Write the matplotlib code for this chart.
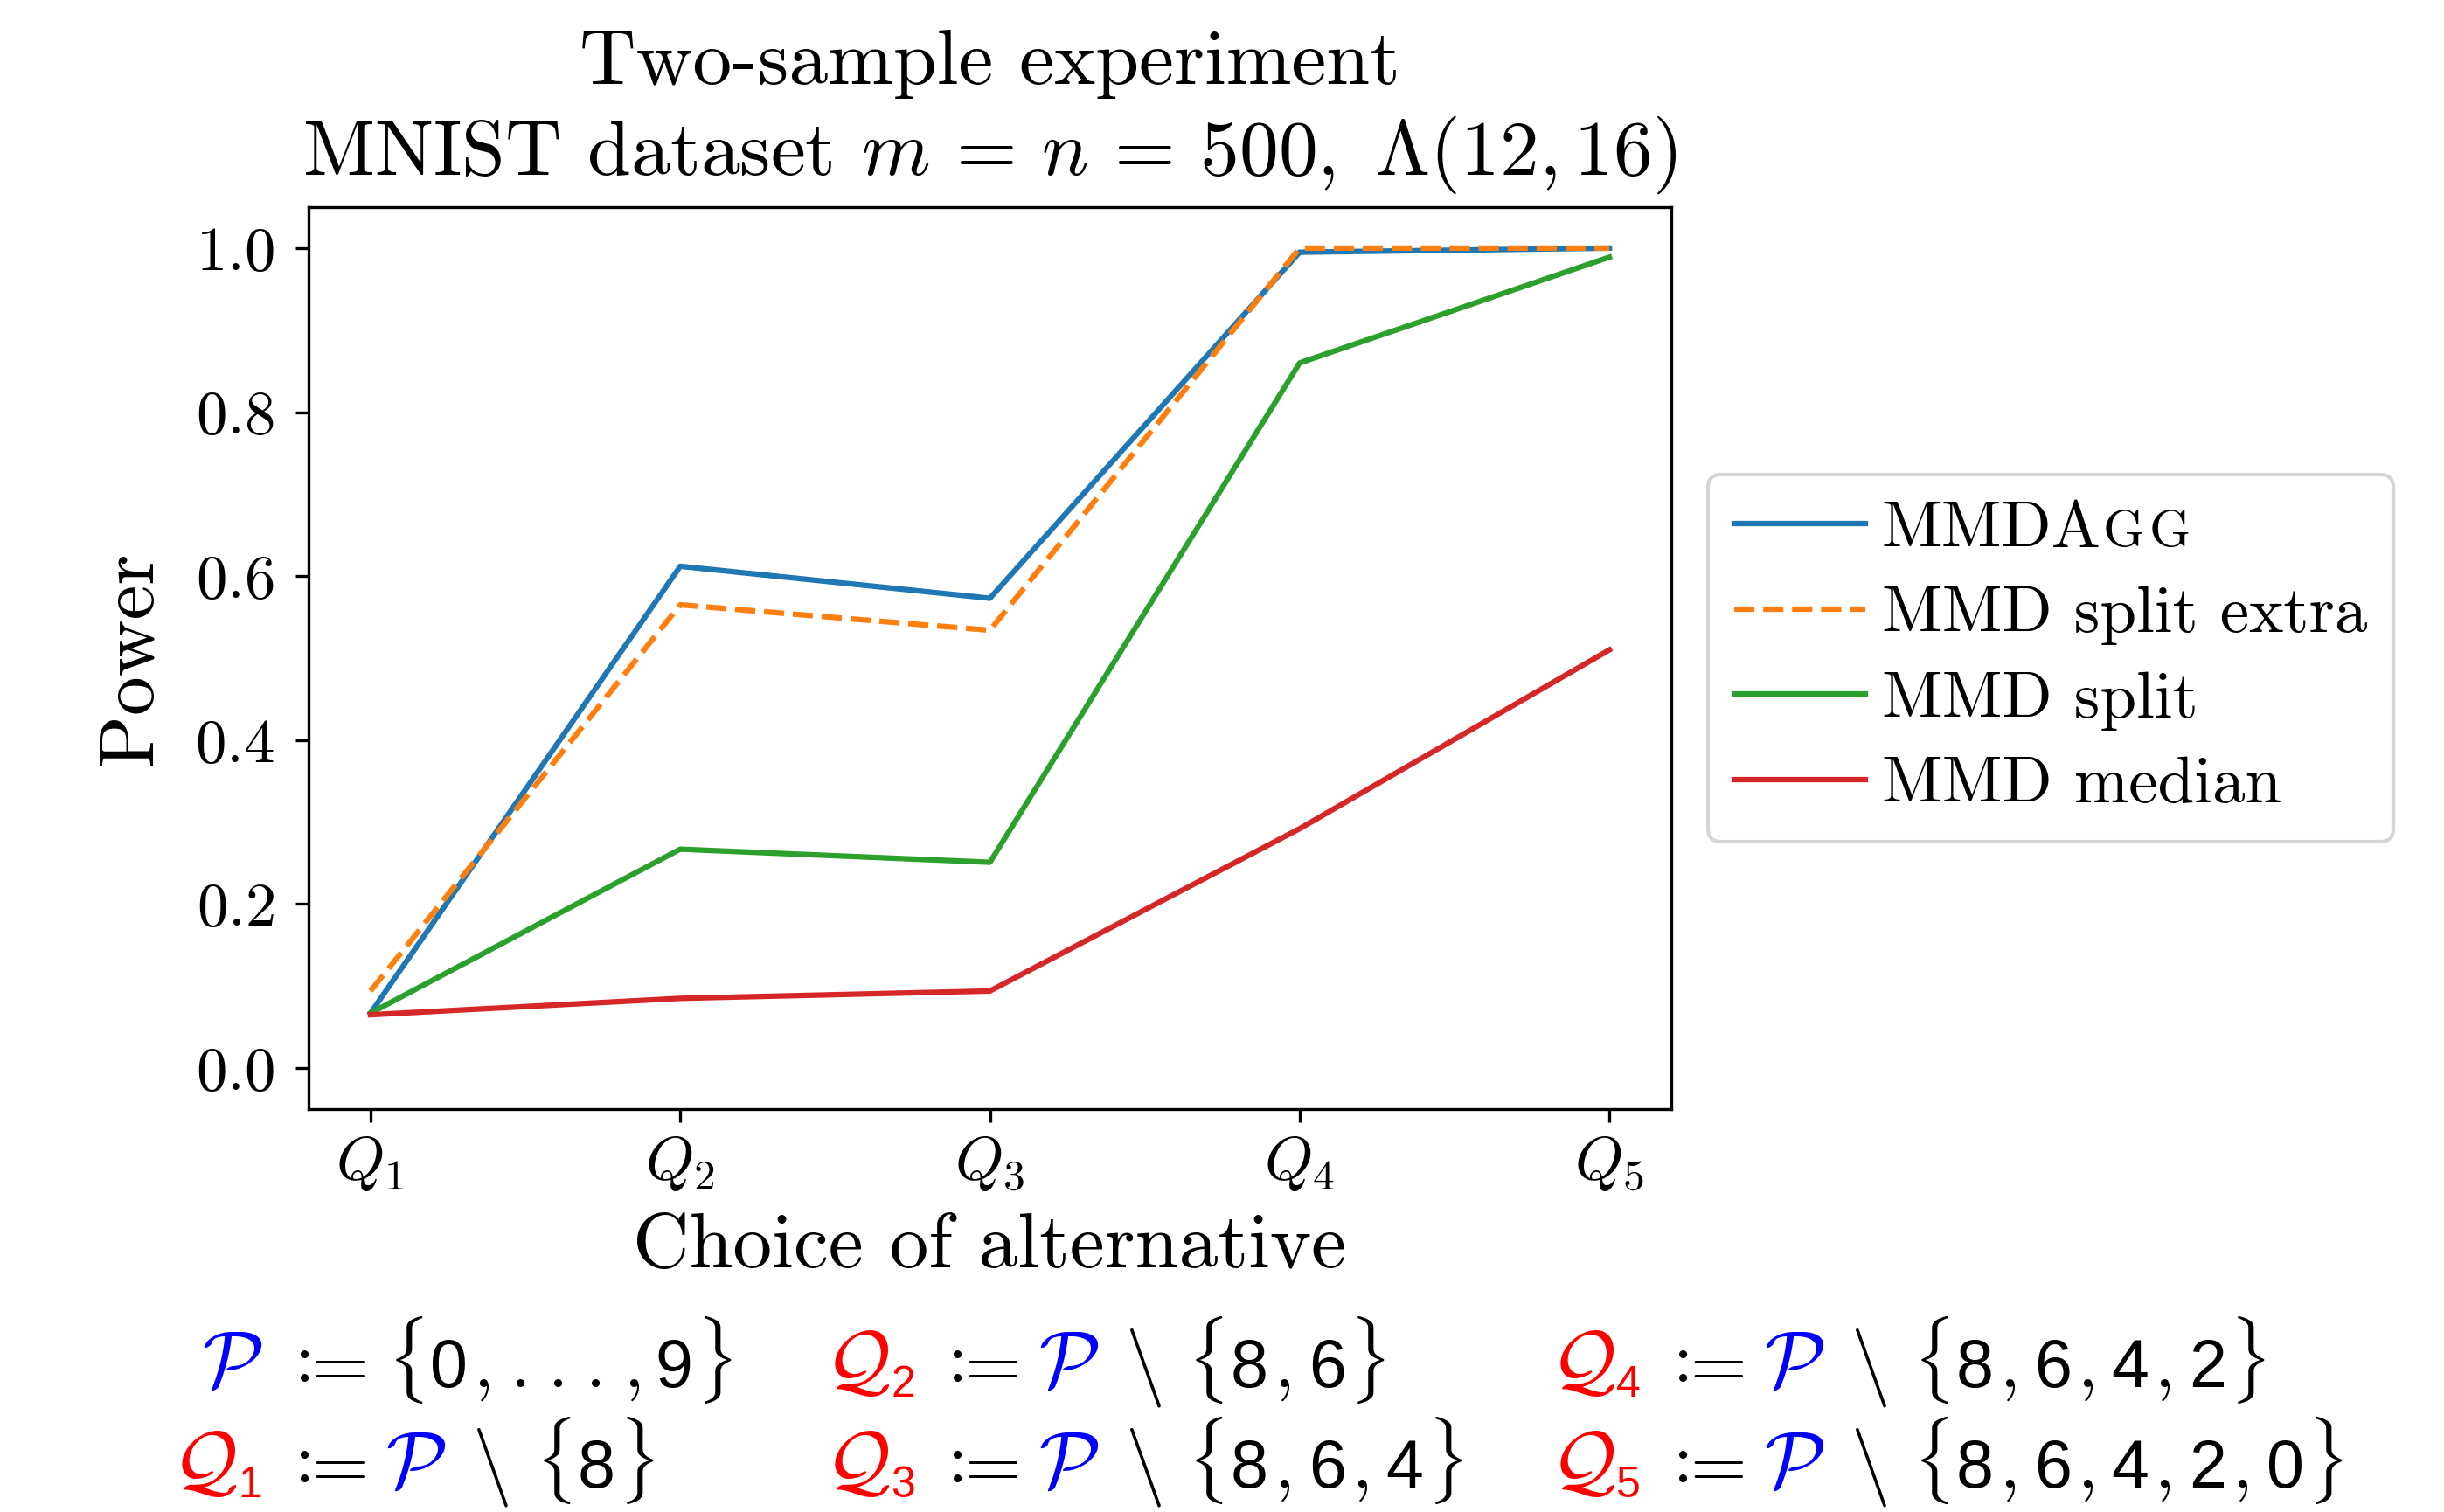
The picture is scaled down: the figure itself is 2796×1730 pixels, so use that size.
import matplotlib
matplotlib.use('Agg')
import matplotlib.pyplot as plt
from matplotlib.transforms import IdentityTransform
import numpy as np

plt.rcParams['font.family'] = 'serif'
plt.rcParams['font.serif'] = ['cmr10']
plt.rcParams['mathtext.fontset'] = 'cm'
plt.rcParams['axes.formatter.use_mathtext'] = True

# data
alternatives = [r'$Q_1$', r'$Q_2$', r'$Q_3$', r'$Q_4$', r'$Q_5$']
mmdagg = [0.067, 0.612, 0.573, 0.995, 1.0]
mmd_split_extra = [0.094, 0.565, 0.534, 1.0, 1.0]
mmd_split = [0.067, 0.267, 0.251, 0.860, 0.989]
mmd_median = [0.065, 0.085, 0.094, 0.292, 0.510]
labels = ['MMDA', 'MMD split extra', 'MMD split', 'MMD median']

# removed digits for each alternative Q_i
removed = [['8'], ['8', '6'], ['8', '6', '4'], ['8', '6', '4', '2'], ['8', '6', '4', '2', '0']]

W, H = 2796, 1730
fig = plt.figure(figsize=(W / 300, H / 300), dpi=300)
ax = fig.add_axes([353 / W, 1 - 1269 / H, 1559 / W, 1032 / H])

x = np.arange(len(alternatives))
ax.plot(x, mmdagg, color='tab:blue', lw=1.5, label=labels[0])
ax.plot(x, mmd_split_extra, color='tab:orange', lw=1.5, ls='--', label=labels[1])
ax.plot(x, mmd_split, color='tab:green', lw=1.5, label=labels[2])
ax.plot(x, mmd_median, color='tab:red', lw=1.5, label=labels[3])

ax.set_ylim(-0.05, 1.05)
ax.set_xticks(x, alternatives)
ax.tick_params(labelsize=17)
ax.tick_params(axis='y', pad=6)
ax.set_title('Two-sample experiment\nMNIST dataset $m\\,=\\,n\\,=\\,500,\\ \\Lambda(12,16)$',
             fontsize=21.5, linespacing=1.25, pad=9)
ax.set_xlabel('Choice of alternative', fontsize=21.5, labelpad=5.5)
ax.set_ylabel('Power', fontsize=21.5, labelpad=8)

leg = ax.legend(loc='center left', bbox_to_anchor=(1.027, 0.5), borderaxespad=0,
                fontsize=18, handlelength=2.0, handletextpad=0.25,
                labelspacing=0.40, borderpad=0.4)

fig.canvas.draw()
renderer = fig.canvas.get_renderer()

# small caps "GG" after MMDA
t0 = leg.get_texts()[0]
bb = t0.get_window_extent(renderer)
base = t0.get_transform().transform((0, 0))[1]
gx = bb.x1 + 2
for ch in 'GG':
    g = fig.text(gx, base, ch, fontsize=14.5, transform=IdentityTransform(), va='baseline')
    gx = g.get_window_extent(renderer).x1 + 5


# definitions of the alternatives under the plot
SANS = 'Liberation Sans'


def layout(x0, y0, pieces):
    texts = []
    xx = x0
    for s, c, size, fam, dy, gap in pieces:
        xx += gap
        t = fig.text(xx, y0 + dy, s, color=c, fontsize=size, family=fam,
                     transform=IdentityTransform(), va='baseline')
        xx = t.get_window_extent(renderer).x1
        texts.append(t)
    return texts, xx


def layout_right(x1, y0, pieces):
    texts, xend = layout(0, y0, pieces)
    for t in texts:
        t.set_x(t.get_position()[0] + x1 - xend)


def cal(letter, color, gap=0):
    return (r'$\mathcal{%s}$' % letter, color, 22, 'serif', 0, gap)


def q_name(i):
    return [cal('Q', 'red'), (str(i), 'red', 12, SANS, -11, 1)]


def digit_set(digits, first_gap):
    out = [(r'$\{$', 'black', 20, 'serif', 0, first_gap)]
    for k, d in enumerate(digits):
        if k > 0:
            out.append((r'$,$', 'black', 20, 'serif', 0, 6))
        out.append((d, 'black', 18.5, SANS, 0, 8 if k == 0 else 21))
    out.append((r'$\}$', 'black', 20, 'serif', 0, 3))
    return out


assign = [(':', 'black', 20, 'serif', 6, 0), ('=', 'black', 20, 'serif', 0, -4)]
minus_p = [cal('P', 'blue', 20), (r'$\backslash$', 'black', 21.6, 'serif', 0, 30)]

assign_x = [337, 1084, 1914]
rows_y = [H - 1587, H - 1702]

# P := {0, ..., 9}
full_set = ([(r'$\{$', 'black', 20, 'serif', 0, 22), ('0', 'black', 18.5, SANS, 0, 8),
             (r'$,$', 'black', 20, 'serif', 0, 6)]
            + [('.', 'black', 20, 'serif', 0, g) for g in (24, 20, 20)]
            + [(r'$,$', 'black', 20, 'serif', 0, 20), ('9', 'black', 18.5, SANS, 0, 18),
               (r'$\}$', 'black', 20, 'serif', 0, 3)])
layout_right(assign_x[0] - 37, rows_y[0], [cal('P', 'blue')])
layout(assign_x[0], rows_y[0], assign + full_set)

for i, digits in enumerate(removed):
    col = (i + 1) // 2
    row = (i + 1) % 2
    xa, ya = assign_x[col], rows_y[row]
    layout_right(xa - 37, ya, q_name(i + 1))
    layout(xa, ya, assign + minus_p + digit_set(digits, 30))

fig.savefig('out.png', dpi=300)
